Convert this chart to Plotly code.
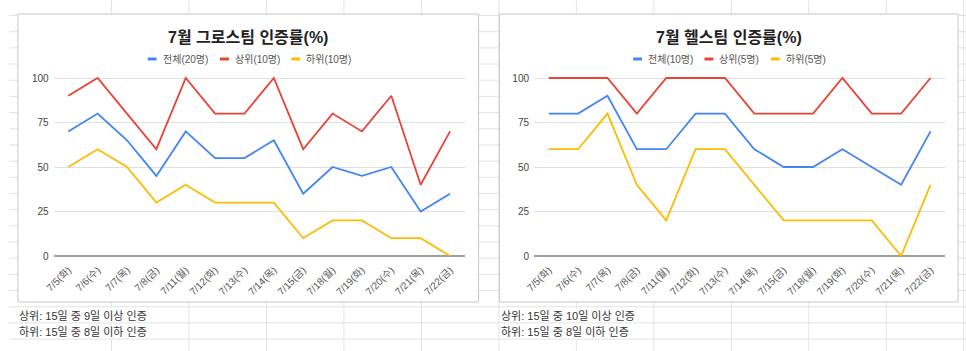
import plotly.graph_objects as go

# ---------------- data ----------------
dates = ["7/5(화)", "7/6(수)", "7/7(목)", "7/8(금)", "7/11(월)", "7/12(화)", "7/13(수)",
         "7/14(목)", "7/15(금)", "7/18(월)", "7/19(화)", "7/20(수)", "7/21(목)", "7/22(금)"]

growth_all = [70, 80, 65, 45, 70, 55, 55, 65, 35, 50, 45, 50, 25, 35]
growth_top = [90, 100, 80, 60, 100, 80, 80, 100, 60, 80, 70, 90, 40, 70]
growth_bottom = [50, 60, 50, 30, 40, 30, 30, 30, 10, 20, 20, 10, 10, 0]

health_all = [80, 80, 90, 60, 60, 80, 80, 60, 50, 50, 60, 50, 40, 70]
health_top = [100, 100, 100, 80, 100, 100, 100, 80, 80, 80, 100, 80, 80, 100]
health_bottom = [60, 60, 80, 40, 20, 60, 60, 40, 20, 20, 20, 20, 0, 40]

y_ticks = [0, 25, 50, 75, 100]

growth_title = "7월 그로스팀 인증률(%)"
health_title = "7월 헬스팀 인증률(%)"
growth_names = ["전체(20명)", "상위(10명)", "하위(10명)"]
health_names = ["전체(10명)", "상위(5명)", "하위(5명)"]
growth_notes = ["상위: 15일 중 9일 이상 인증", "하위: 15일 중 8일 이하 인증"]
health_notes = ["상위: 15일 중 10일 이상 인증", "하위: 15일 중 8일 이하 인증"]

colors = ["#4285F4", "#EA4335", "#FBBC04"]

# ---------------- layout helpers ----------------
W, H = 966, 351
FONT = "Liberation Sans, Arial, Noto Sans CJK KR, sans-serif"


def px(x):
    return x / W


def py(y):
    return 1 - y / H


fig = go.Figure()

series = [
    ("x", "y", [growth_all, growth_top, growth_bottom], growth_names),
    ("x2", "y2", [health_all, health_top, health_bottom], health_names),
]
for xa, ya, vals, names in series:
    for v, n, c in zip(vals, names, colors):
        fig.add_trace(go.Scatter(
            x=dates, y=v, name=n, mode="lines", xaxis=xa, yaxis=ya,
            line=dict(color=c, width=1.8), showlegend=False,
            hovertemplate="%{x}: %{y}<extra>" + n + "</extra>",
        ))

# plot geometry (pixels)
plot_top, plot_bottom = 78, 256          # y=100 and y=0
unit = (plot_bottom - plot_top) / 100
y_range = [-3, 103]
y_dom = [py(plot_bottom + 3 * unit), py(plot_top - 3 * unit)]

xaxis_common = dict(type="category", range=[-0.5, len(dates) - 0.5], showgrid=False,
                    showline=False, zeroline=False, ticks="", tickangle=-45,
                    tickfont=dict(family=FONT, size=10, color="#555555"), fixedrange=True)
yaxis_common = dict(range=y_range, tickvals=y_ticks, showgrid=True, gridcolor="#e0e0e0",
                    gridwidth=1, zeroline=True, zerolinecolor="#9e9e9e", zerolinewidth=1.5,
                    showline=False, ticks="", ticklabelstandoff=4,
                    tickfont=dict(family=FONT, size=10, color="#444444"), fixedrange=True)

fig.update_layout(
    width=W, height=H, margin=dict(l=0, r=0, t=0, b=0),
    paper_bgcolor="white", plot_bgcolor="rgba(0,0,0,0)",
    font=dict(family=FONT),
    xaxis=dict(domain=[px(45), px(460)], anchor="y", **xaxis_common),
    yaxis=dict(domain=y_dom, anchor="x", **yaxis_common),
    xaxis2=dict(domain=[px(530), px(945)], anchor="y2", **xaxis_common),
    yaxis2=dict(domain=y_dom, anchor="x2", **yaxis_common),
)

shapes = []
# spreadsheet grid behind the charts
row_lines = [15.5 + 16.18 * k for k in range(21)]
col_lines = [103.5 + 78.2 * k for k in range(12)]
text_rows = (306.8, 339.2)
for y in row_lines:
    shapes.append(dict(type="line", xref="paper", yref="paper", x0=0, x1=1, y0=py(y), y1=py(y),
                       line=dict(color="#e2e3e3", width=1), layer="below"))
for i, x in enumerate(col_lines):
    if i in (0, 6):
        segs = [(0, text_rows[0]), (text_rows[1], H)]
    else:
        segs = [(0, H)]
    for a, b in segs:
        shapes.append(dict(type="line", xref="paper", yref="paper", x0=px(x), x1=px(x),
                           y0=py(a), y1=py(b), line=dict(color="#e2e3e3", width=1), layer="below"))

# chart boxes
for x0, x1 in [(9, 474), (495, 958)]:
    shapes.append(dict(type="rect", xref="paper", yref="paper", x0=px(x0), x1=px(x1),
                       y0=py(302), y1=py(14), fillcolor="white",
                       line=dict(color="#c6c6c6", width=1), layer="below"))

annotations = []
# titles
for cx, t in [((9 + 474) / 2, growth_title), ((495 + 958) / 2, health_title)]:
    annotations.append(dict(text="<b>" + t + "</b>", x=px(cx), y=py(37), xref="paper", yref="paper",
                            showarrow=False, xanchor="center", yanchor="middle",
                            font=dict(family=FONT, size=16, color="#222222")))

# legends (dash + label)
legend_pos = [
    (growth_names, [140, 213, 285]),
    (health_names, [630, 702, 769]),
]
leg_y = 59
for names, xs in legend_pos:
    for n, x, c in zip(names, xs, colors):
        shapes.append(dict(type="line", xref="paper", yref="paper", x0=px(x), x1=px(x + 9),
                           y0=py(leg_y), y1=py(leg_y), line=dict(color=c, width=3)))
        annotations.append(dict(text=n, x=px(x + 13), y=py(leg_y), xref="paper", yref="paper",
                                showarrow=False, xanchor="left", yanchor="middle",
                                font=dict(family=FONT, size=10, color="#555555")))

# notes under the charts
for x0, notes in [(8, growth_notes), (495, health_notes)]:
    for y, t in zip([315, 331], notes):
        annotations.append(dict(text=t, x=px(x0), y=py(y), xref="paper", yref="paper",
                                showarrow=False, xanchor="left", yanchor="middle",
                                font=dict(family=FONT, size=11, color="#333333")))

fig.update_layout(shapes=shapes, annotations=annotations)

fig.write_html("out.html")
